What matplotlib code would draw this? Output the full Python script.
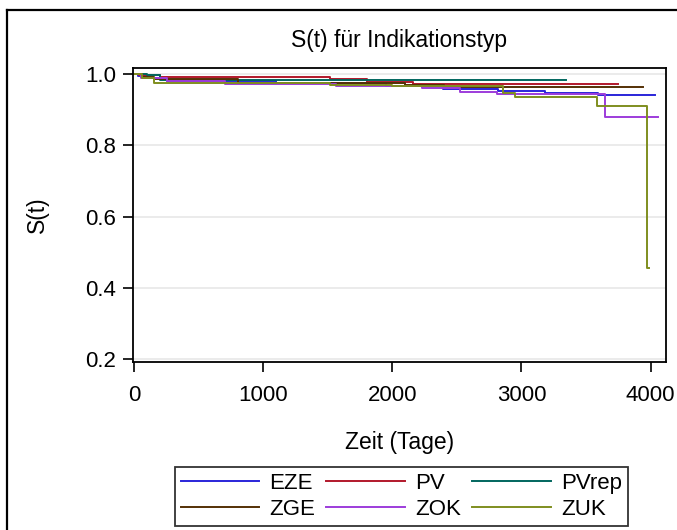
import numpy as np
import matplotlib.pyplot as plt
from matplotlib.lines import Line2D

plt.rcParams["font.family"] = ["Liberation Sans", "DejaVu Sans"]

groups = ["EZE", "PV", "PVrep", "ZGE", "ZOK", "ZUK"]
colors = ["#2A25D9", "#B2182B", "#01665E", "#543005", "#9D3CDB", "#7F8E1F"]

t_eze = [0, 30, 100, 250, 1100, 1950, 2390, 2820, 3185, 3595, 4037]
s_eze = [1.0, 0.995, 0.99, 0.981, 0.975, 0.966, 0.957, 0.953, 0.948, 0.941, 0.941]

t_pv = [0, 40, 200, 1517, 1800, 2160, 3750]
s_pv = [1.0, 0.996, 0.9925, 0.986, 0.978, 0.972, 0.972]

t_pvrep = [0, 100, 200, 3344]
s_pvrep = [1.0, 0.996, 0.983, 0.983]

t_zge = [0, 60, 150, 800, 2100, 2400, 3944]
s_zge = [1.0, 0.993, 0.985, 0.976, 0.97, 0.964, 0.964]

t_zok = [0, 50, 250, 700, 1560, 2230, 2525, 2810, 3650, 4058]
s_zok = [1.0, 0.99, 0.98, 0.972, 0.966, 0.96, 0.95, 0.944, 0.88, 0.88]

t_zuk = [0, 60, 150, 1520, 2000, 2860, 2950, 3585, 3972, 3990]
s_zuk = [1.0, 0.99, 0.974, 0.969, 0.966, 0.947, 0.935, 0.911, 0.455, 0.455]

times = [t_eze, t_pv, t_pvrep, t_zge, t_zok, t_zuk]
surv = [s_eze, s_pv, s_pvrep, s_zge, s_zok, s_zuk]

fig = plt.figure(figsize=(6.77, 5.30), dpi=100)
ax = fig.add_axes([0.1965, 0.317, 0.7873, 0.5547])

lines = []
for name, c, t, s in zip(groups, colors, times, surv):
    ln, = ax.step(t, s, where="post", color=c, linewidth=1.4, label=name)
    lines.append(ln)

ax.set_xlim(-10, 4120)
ax.set_ylim(0.1916, 1.017)
ax.set_xticks([0, 1000, 2000, 3000, 4000])
ax.set_yticks([0.2, 0.4, 0.6, 0.8, 1.0])
ax.set_yticklabels(["0.2", "0.4", "0.6", "0.8", "1.0"])
ax.tick_params(labelsize=16, length=7.5, width=1.2, direction="out")
ax.tick_params(axis="x", pad=9)
ax.tick_params(axis="y", pad=4.5)
ax.yaxis.grid(True, color="#E8E8E8", linewidth=1.2)
ax.set_axisbelow(True)
for sp in ax.spines.values():
    sp.set_linewidth(1.3)

ax.set_title("S(t) für Indikationstyp", fontsize=16.5, y=1.092, pad=0, va="center")
ax.set_xlabel("Zeit (Tage)", fontsize=16.5)
ax.set_ylabel("S(t)", fontsize=16.5)
ax.xaxis.set_label_coords(0.5, -0.235)
ax.yaxis.set_label_coords(-0.157, 0.5)

# row-wise order like the original legend
order = [0, 3, 1, 4, 2, 5]
leg = fig.legend([lines[i] for i in order], [groups[i] for i in order],
                 loc="upper left", bbox_to_anchor=(175 / 677, 1 - 467 / 530),
                 ncol=3, fontsize=16, frameon=True, fancybox=False,
                 edgecolor="black", handlelength=3.55, handletextpad=0.45,
                 columnspacing=0.5, borderpad=0.25, labelspacing=0.25,
                 borderaxespad=0)
leg.get_frame().set_linewidth(1.3)

# outer frame of the graph area
fig.add_artist(Line2D([7 / 677, 7 / 677], [0, 1 - 10 / 530], color="black", linewidth=1.6))
fig.add_artist(Line2D([7 / 677, 1], [1 - 10 / 530, 1 - 10 / 530], color="black", linewidth=1.6))

plt.savefig("out.png", dpi=100)
